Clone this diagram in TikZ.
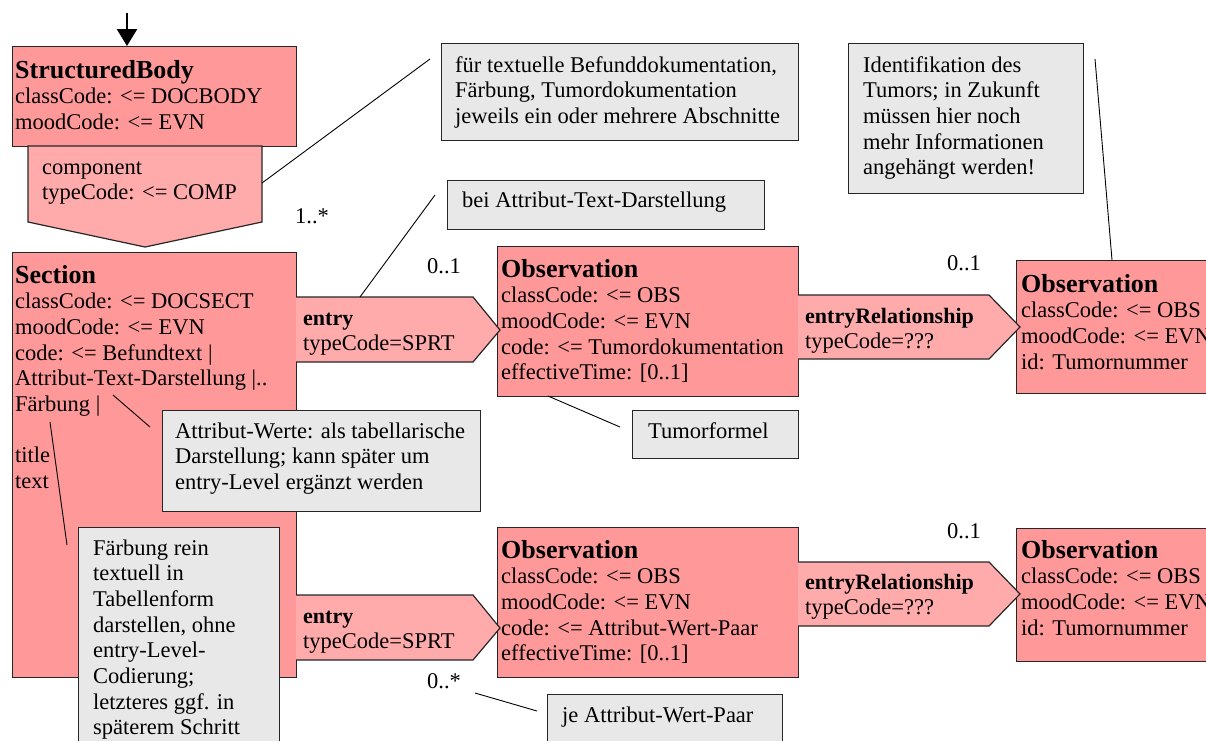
\documentclass[tikz,border=0pt]{standalone}
\usepackage{fontspec}
\setmainfont{Liberation Serif}
\usetikzlibrary{arrows.meta}
\definecolor{boxred}{RGB}{255,153,153}
\definecolor{arrpink}{RGB}{255,171,171}
\definecolor{notegray}{RGB}{232,232,232}
\newcommand\boxtitle[1]{{\fontsize{26}{26}\selectfont\bfseries #1}}
\newcommand\assoctitle[1]{{\fontsize{22}{22}\selectfont\bfseries #1}}
\newcommand\ml[1]{\begin{tabular}[t]{@{}l@{}}#1\end{tabular}}
\begin{document}
\begin{tikzpicture}[x=1pt,y=-1pt,
  cls/.style={draw=black!85, line width=1.2pt, fill=boxred, anchor=north west, inner sep=0pt},
  note/.style={draw=black!85, line width=1.2pt, fill=notegray, anchor=north west, inner sep=0pt},
  txt/.style={anchor=base west, inner sep=0pt, font=\fontsize{22.5}{25.7}\selectfont},
  callout/.style={line width=0.9pt, draw=black},
  assoc/.style={line width=1.2pt, draw=black!85, fill=arrpink, line join=miter}]
\useasboundingbox (0,0) rectangle (1206,740);

% class boxes
\node[cls, minimum width=284pt, minimum height=100pt] (sb) at (12,46) {};
\draw[assoc] (28,146) -- (262,146) -- (262,222) -- (145,247) -- (28,222) -- cycle;
\node[cls, minimum width=284pt, minimum height=425pt] (sec) at (12,252) {};
\node[cls, minimum width=301pt, minimum height=150pt] (obs1) at (497,246) {};
\node[cls, minimum width=204pt, minimum height=133pt] (obs2) at (1016,260) {};
\node[cls, minimum width=301pt, minimum height=150pt] (obs3) at (497,527) {};
\node[cls, minimum width=204pt, minimum height=133pt] (obs4) at (1016,528) {};

% association arrows
\draw[assoc] (296,297) -- (473,297) -- (500,330) -- (473,362) -- (296,362);
\draw[assoc] (296,595) -- (473,595) -- (500,628) -- (473,660) -- (296,660);
\draw[assoc] (798,295) -- (989,295) -- (1020,327) -- (989,359) -- (798,359);
\draw[assoc] (798,562) -- (989,562) -- (1020,594) -- (989,626) -- (798,626);

% top arrow
\coordinate (top) at (127,13);
\draw[line width=2.6pt, -{Triangle[length=17pt,width=20pt]}] (top) -- (top |- sb.north);

% notes
\node[note, minimum width=357pt, minimum height=97pt] (n1) at (441,43) {};
\node[note, minimum width=317pt, minimum height=49pt] (n2) at (447,180) {};
\node[note, minimum width=318pt, minimum height=101pt] (n3) at (162,410) {};
\node[note, minimum width=201pt, minimum height=240pt] (n4) at (78,527) {};
\node[note, minimum width=166pt, minimum height=48pt] (n5) at (632,410) {};
\node[note, minimum width=235pt, minimum height=60pt] (n6) at (547,694) {};
\node[note, minimum width=235pt, minimum height=150pt] (n7) at (848,43) {};

% texts in classes
\node[txt] (sbt) at (15,78) {\ml{\boxtitle{StructuredBody}\\classCode: <= DOCBODY\\moodCode: <= EVN}};
\node[txt] (compt) at (42,174) {\ml{component\\typeCode: <= COMP}};
\node[txt] (sect) at (15,283) {\ml{\boxtitle{Section}\\classCode: <= DOCSECT\\moodCode: <= EVN\\code: <= Befundtext |\\Attribut-Text-Darstellung |..\\Färbung |\\[25.7pt]title\\text}};
\node[txt] (obs1t) at (501,277) {\ml{\boxtitle{Observation}\\classCode: <= OBS\\moodCode: <= EVN\\code: <= Tumordokumentation\\effectiveTime: [0..1]}};
\node[txt] (obs2t) at (1021,292) {\ml{\boxtitle{Observation}\\classCode: <= OBS\\moodCode: <= EVN\\id: Tumornummer}};
\node[txt] (obs3t) at (501,558) {\ml{\boxtitle{Observation}\\classCode: <= OBS\\moodCode: <= EVN\\code: <= Attribut-Wert-Paar\\effectiveTime: [0..1]}};
\node[txt] (obs4t) at (1021,558) {\ml{\boxtitle{Observation}\\classCode: <= OBS\\moodCode: <= EVN\\id: Tumornummer}};

% association labels
\node[txt] (e1t) at (303,325) {\ml{\assoctitle{entry}\\typeCode=SPRT}};
\node[txt] (e2t) at (303,623) {\ml{\assoctitle{entry}\\typeCode=SPRT}};
\node[txt] (r1t) at (805,323) {\ml{\assoctitle{entryRelationship}\\typeCode=???}};
\node[txt] (r2t) at (805,589) {\ml{\assoctitle{entryRelationship}\\typeCode=???}};

% multiplicities
\node[txt] (m1) at (295,223) {1..*};
\node[txt] (m2) at (427,273) {0..1};
\node[txt] (m3) at (427,688) {0..*};
\node[txt] (m4) at (947,270) {0..1};
\node[txt] (m5) at (947,538) {0..1};

% note texts
\node[txt] (n1t) at (455,72) {\ml{für textuelle Befunddokumentation,\\Färbung, Tumordokumentation\\jeweils ein oder mehrere Abschnitte}};
\node[txt] (n2t) at (462,207) {bei Attribut-Text-Darstellung};
\node[txt] (n3t) at (175,438) {\ml{Attribut-Werte: als tabellarische\\Darstellung; kann später um\\entry-Level ergänzt werden}};
\node[txt] (n4t) at (93,555) {\ml{Färbung rein\\textuell in\\Tabellenform\\darstellen, ohne\\entry-Level-\\Codierung;\\letzteres ggf. in\\späterem Schritt}};
\node[txt] (n5t) at (648,438) {Tumorformel};
\node[txt] (n6t) at (562,722) {je Attribut-Wert-Paar};
\node[txt] (n7t) at (863,72) {\ml{Identifikation des\\Tumors; in Zukunft\\müssen hier noch\\mehr Informationen\\angehängt werden!}};

% callout lines
\coordinate (c1a) at (262,183); \coordinate (c1b) at (430,59);
\coordinate (c2a) at (360,297); \coordinate (c2b) at (435,195);
\coordinate (c3a) at (113,395); \coordinate (c3b) at (150,427);
\coordinate (c4a) at (50,422);  \coordinate (c4b) at (67,545);
\coordinate (c5a) at (548,396); \coordinate (c5b) at (620,427);
\coordinate (c6a) at (475,693); \coordinate (c6b) at (537,711);
\coordinate (c7a) at (1112,260); \coordinate (c7b) at (1095,59);
\draw[callout] (c1a) -- (c1b);
\draw[callout] (c2a) -- (c2b);
\draw[callout] (c3a) -- (c3b);
\draw[callout] (c4a) -- (c4b);
\draw[callout] (c5a) -- (c5b);
\draw[callout] (c6a) -- (c6b);
\draw[callout] (c7a) -- (c7b);
\end{tikzpicture}
\end{document}
